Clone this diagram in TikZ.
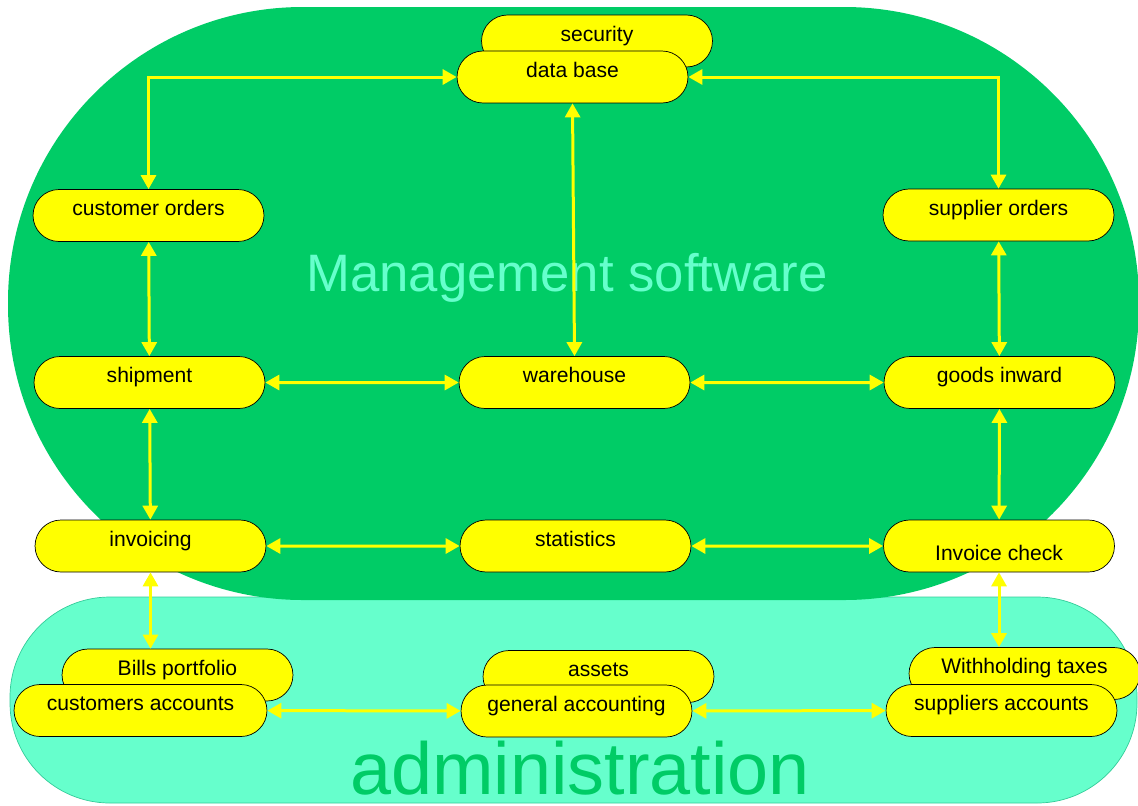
\documentclass[tikz,border=0pt]{standalone}
\usepackage{fontspec}
\setmainfont{Liberation Sans}
\usepackage{xcolor}
\usepackage{tikz}
\usetikzlibrary{shapes.misc,arrows.meta}

\definecolor{mgmtgreen}{HTML}{00CC66}
\definecolor{admgreen}{HTML}{66FFCC}
\definecolor{admline}{HTML}{33CC99}
\definecolor{boxyellow}{HTML}{FFFF00}

\begin{document}
\begin{tikzpicture}[x=0.02cm, y=-0.02cm,
    box/.style={rounded rectangle, draw=black, thin, fill=boxyellow,
        minimum width=4.62cm, minimum height=1.04cm, inner sep=0pt,
        font=\fontsize{12}{14}\selectfont, text height=0.3cm, text depth=0.3cm},
    lowtext/.style={text height=0.58cm, text depth=0.02cm},
    link/.style={{Triangle[length=0.28cm,width=0.3cm]}-{Triangle[length=0.28cm,width=0.3cm]},
        draw=boxyellow, line width=0.06cm}]
    \useasboundingbox (0,0) rectangle (1138,805);

    % Administration area
    \fill[admgreen, draw=admline, rounded corners=2.0cm] (10,597) rectangle (1137,803);
    \node[text=mgmtgreen, inner sep=0pt, font=\fontsize{42}{46}\selectfont] (admtitle) at (580,768) {administration};

    % Management software area
    \fill[mgmtgreen, rounded corners=5.9cm] (8,7) rectangle (1139,600);
    \node[text=admgreen, font=\fontsize{30}{34}\selectfont] (mgmttitle) at (567,278) {Management software};

    % Top row
    \node[box] (sec) at (597,41) {security};
    \node[box] (db) at (572.5,77) {data base};

    % Orders
    \node[box] (cord) at (148.5,215.5) {customer orders};
    \node[box] (sord) at (998.5,215) {supplier orders};

    % Middle row
    \node[box] (ship) at (149.5,382.5) {shipment};
    \node[box] (wh) at (574.5,382.5) {warehouse};
    \node[box] (gin) at (999.5,382.5) {goods inward};

    % Lower row
    \node[box] (inv) at (150.5,546) {invoicing};
    \node[box] (stat) at (575.5,546) {statistics};
    \node[box, lowtext] (ichk) at (999,546) {Invoice check};

    % Accounts
    \node[box] (bills) at (177.5,675) {Bills portfolio};
    \node[box, minimum width=5.06cm] (cacc) at (140.5,710.5) {customers accounts};
    \node[box] (assets) at (598.5,676.5) {assets};
    \node[box] (gacc) at (576.5,711) {general accounting};
    \node[box] (wtax) at (1024.5,673.5) {Withholding taxes};
    \node[box] (sacc) at (1001.5,710.5) {suppliers accounts};

    % Links
    \draw[link] (db.west) -| (cord.north);
    \draw[link] (db.east) -| (sord.north);
    \draw[link] (db.south) -- (wh.north);
    \draw[link] (cord) -- (ship);
    \draw[link] (sord) -- (gin);
    \draw[link] (ship) -- (wh);
    \draw[link] (wh) -- (gin);
    \draw[link] (ship) -- (inv);
    \draw[link] (gin) -- (ichk);
    \draw[link] (inv) -- (stat);
    \draw[link] (stat) -- (ichk);
    \draw[link] (inv.south) -- (inv.south |- bills.north);
    \draw[link] (ichk.south) -- (ichk.south |- wtax.north);
    \draw[link] (cacc) -- (gacc);
    \draw[link] (gacc) -- (sacc);
\end{tikzpicture}
\end{document}
